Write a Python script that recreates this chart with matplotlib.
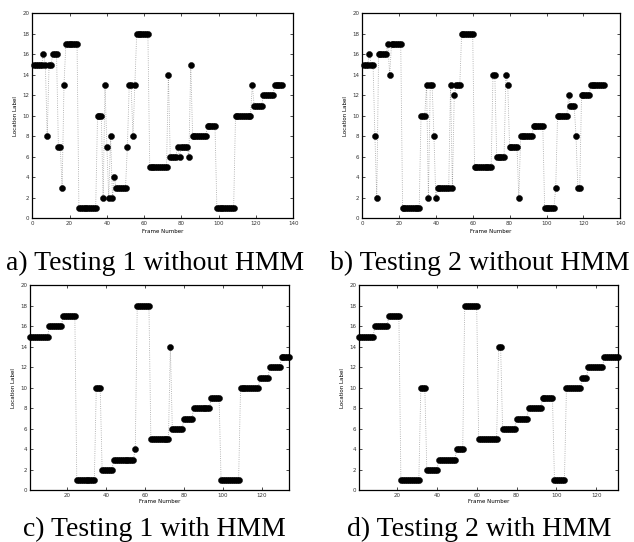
import matplotlib
matplotlib.use("Agg")
import matplotlib.pyplot as plt

# Location labels per frame
test1_raw = [
    15, 15, 15, 15, 15, 16, 15, 8, 15, 15,
    16, 16, 16, 7, 7, 3, 13, 17, 17, 17,
    17, 17, 17, 17, 1, 1, 1, 1, 1, 1,
    1, 1, 1, 1, 10, 10, 10, 2, 13, 7,
    2, 8, 2, 4, 3, 3, 3, 3, 3, 3,
    7, 13, 13, 8, 13, 18, 18, 18, 18, 18,
    18, 18, 5, 5, 5, 5, 5, 5, 5, 5,
    5, 5, 14, 6, 6, 6, 6, 7, 6, 7,
    7, 7, 7, 6, 15, 8, 8, 8, 8, 8,
    8, 8, 8, 9, 9, 9, 9, 9, 1, 1,
    1, 1, 1, 1, 1, 1, 1, 1, 10, 10,
    10, 10, 10, 10, 10, 10, 10, 13, 11, 11,
    11, 11, 11, 12, 12, 12, 12, 12, 12, 13,
    13, 13, 13, 13,
]

test2_raw = [
    15, 15, 15, 16, 15, 15, 8, 2, 16, 16,
    16, 16, 16, 17, 14, 17, 17, 17, 17, 17,
    17, 1, 1, 1, 1, 1, 1, 1, 1, 1,
    1, 10, 10, 10, 13, 2, 13, 13, 8, 2,
    3, 3, 3, 3, 3, 3, 3, 13, 3, 12,
    13, 13, 13, 18, 18, 18, 18, 18, 18, 18,
    5, 5, 5, 5, 5, 5, 5, 5, 5, 5,
    14, 14, 6, 6, 6, 6, 6, 14, 13, 7,
    7, 7, 7, 7, 2, 8, 8, 8, 8, 8,
    8, 8, 9, 9, 9, 9, 9, 9, 1, 1,
    1, 1, 1, 1, 3, 10, 10, 10, 10, 10,
    10, 12, 11, 11, 11, 8, 3, 3, 12, 12,
    12, 12, 12, 13, 13, 13, 13, 13, 13, 13,
    13,
]

test1_hmm = [
    15, 15, 15, 15, 15, 15, 15, 15, 15, 15,
    16, 16, 16, 16, 16, 16, 16, 17, 17, 17,
    17, 17, 17, 17, 1, 1, 1, 1, 1, 1,
    1, 1, 1, 1, 10, 10, 10, 2, 2, 2,
    2, 2, 2, 3, 3, 3, 3, 3, 3, 3,
    3, 3, 3, 3, 4, 18, 18, 18, 18, 18,
    18, 18, 5, 5, 5, 5, 5, 5, 5, 5,
    5, 5, 14, 6, 6, 6, 6, 6, 6, 7,
    7, 7, 7, 7, 8, 8, 8, 8, 8, 8,
    8, 8, 8, 9, 9, 9, 9, 9, 1, 1,
    1, 1, 1, 1, 1, 1, 1, 1, 10, 10,
    10, 10, 10, 10, 10, 10, 10, 10, 11, 11,
    11, 11, 11, 12, 12, 12, 12, 12, 12, 13,
    13, 13, 13, 13,
]

test2_hmm = [
    15, 15, 15, 15, 15, 15, 15, 15, 16, 16,
    16, 16, 16, 16, 16, 17, 17, 17, 17, 17,
    17, 1, 1, 1, 1, 1, 1, 1, 1, 1,
    1, 10, 10, 10, 2, 2, 2, 2, 2, 2,
    3, 3, 3, 3, 3, 3, 3, 3, 3, 4,
    4, 4, 4, 18, 18, 18, 18, 18, 18, 18,
    5, 5, 5, 5, 5, 5, 5, 5, 5, 5,
    14, 14, 6, 6, 6, 6, 6, 6, 6, 7,
    7, 7, 7, 7, 7, 8, 8, 8, 8, 8,
    8, 8, 9, 9, 9, 9, 9, 9, 1, 1,
    1, 1, 1, 1, 10, 10, 10, 10, 10, 10,
    10, 10, 11, 11, 11, 12, 12, 12, 12, 12,
    12, 12, 12, 13, 13, 13, 13, 13, 13, 13,
    13,
]

captions = ["a) Testing 1 without HMM", "b) Testing 2 without HMM",
            "c) Testing 1 with HMM", "d) Testing 2 with HMM"]

W, H = 634, 542
fig = plt.figure(figsize=(W / 100, H / 100), dpi=100)

# axes boxes in pixels: left, top, right, bottom
boxes = [(32.3, 13.3, 293.3, 218.3),
         (362.0, 13.3, 620.3, 218.3),
         (30.0, 285.3, 289.3, 490.3),
         (359.0, 285.3, 618.3, 490.3)]
series = [test1_raw, test2_raw, test1_hmm, test2_hmm]
caption_pos = [(155, 270), (479.5, 270), (154, 536), (479.5, 536)]

for i, (box, labels) in enumerate(zip(boxes, series)):
    l, t, r, b = box
    ax = fig.add_axes([l / W, 1 - b / H, (r - l) / W, (b - t) / H])
    frames = list(range(1, len(labels) + 1))
    ax.plot(frames, labels, linestyle=':', color='#a0a0a0', linewidth=0.6,
            marker='o', markersize=4.4, markerfacecolor='black',
            markeredgecolor='black', markeredgewidth=0.3, clip_on=False)
    ax.set_ylim(0, 20)
    ax.set_yticks(range(0, 21, 2))
    if i < 2:
        ax.set_xlim(0, 140)
        ax.set_xticks(range(0, 141, 20))
    else:
        ax.set_xlim(1, len(labels))
        ax.set_xticks(range(20, 121, 20))
    ax.tick_params(direction='in', length=2, width=0.5, labelsize=4,
                   top=True, right=True, pad=2, colors='black',
                   labelcolor='#333333')
    for sp in ax.spines.values():
        sp.set_linewidth(0.9)
    ax.set_xlabel("Frame Number", fontsize=4, labelpad=2 if i < 2 else 0.5)
    ax.set_ylabel("Location Label", fontsize=4, labelpad=3)

    cx, cy = caption_pos[i]
    fig.text(cx / W, 1 - cy / H, captions[i], ha='center', va='baseline',
             fontsize=20, family='Liberation Serif')

fig.savefig("out.png", dpi=100)
